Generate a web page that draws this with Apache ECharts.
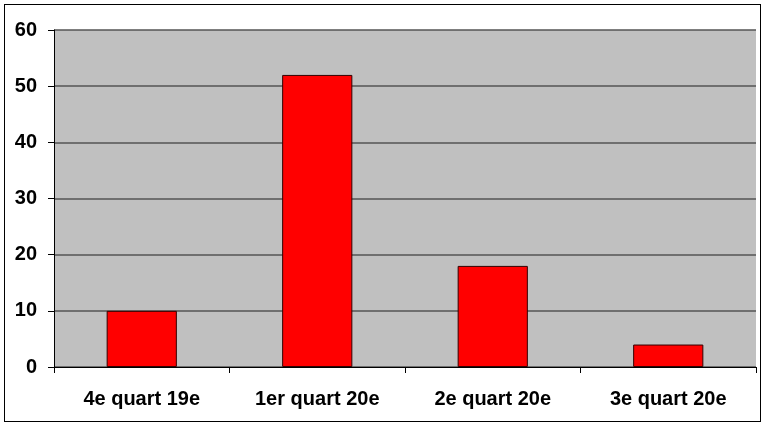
<!DOCTYPE html>
<html><head><meta charset="utf-8">
<script src="https://cdn.jsdelivr.net/npm/echarts@6/dist/echarts.min.js"></script>
<style>html,body{margin:0;padding:0;background:#fff}#c{width:768px;height:428px;}
#frame{position:absolute;left:4px;top:4px;width:757px;height:418px;border:1px solid #000;box-sizing:border-box;pointer-events:none}</style>
</head><body><div id="c"></div><div id="frame"></div>
<script>
const categories = ['4e quart 19e', '1er quart 20e', '2e quart 20e', '3e quart 20e'];
const values = [10, 52, 18, 4];
const yTicks = [0, 10, 20, 30, 40, 50, 60];
const chart = echarts.init(document.getElementById('c'));
chart.setOption({
  animation: false,
  grid: {left: 54, right: 12, top: 30, bottom: 61, show: true, backgroundColor: '#c0c0c0', borderWidth: 0},
  xAxis: {
    type: 'category', data: categories,
    axisLine: {lineStyle: {color: '#000', width: 1}},
    axisTick: {show: true, length: 6, lineStyle: {color: '#000'}},
    axisLabel: {fontFamily: 'Liberation Sans, Arial', fontWeight: 'bold', fontSize: 20, color: '#000', margin: 22}
  },
  yAxis: {
    type: 'value', min: yTicks[0], max: yTicks[yTicks.length - 1], interval: 10,
    axisLine: {show: true, lineStyle: {color: '#000', width: 1}},
    axisTick: {show: true, length: 6, lineStyle: {color: '#000'}},
    splitLine: {lineStyle: {color: '#555', width: 1.5}},
    axisLabel: {fontFamily: 'Liberation Sans, Arial', fontWeight: 'bold', fontSize: 20, color: '#000', margin: 17}
  },
  series: [{
    type: 'bar', data: values, barWidth: '40%',
    itemStyle: {color: '#ff0000', borderColor: '#300', borderWidth: 1}
  }]
});
</script></body></html>
